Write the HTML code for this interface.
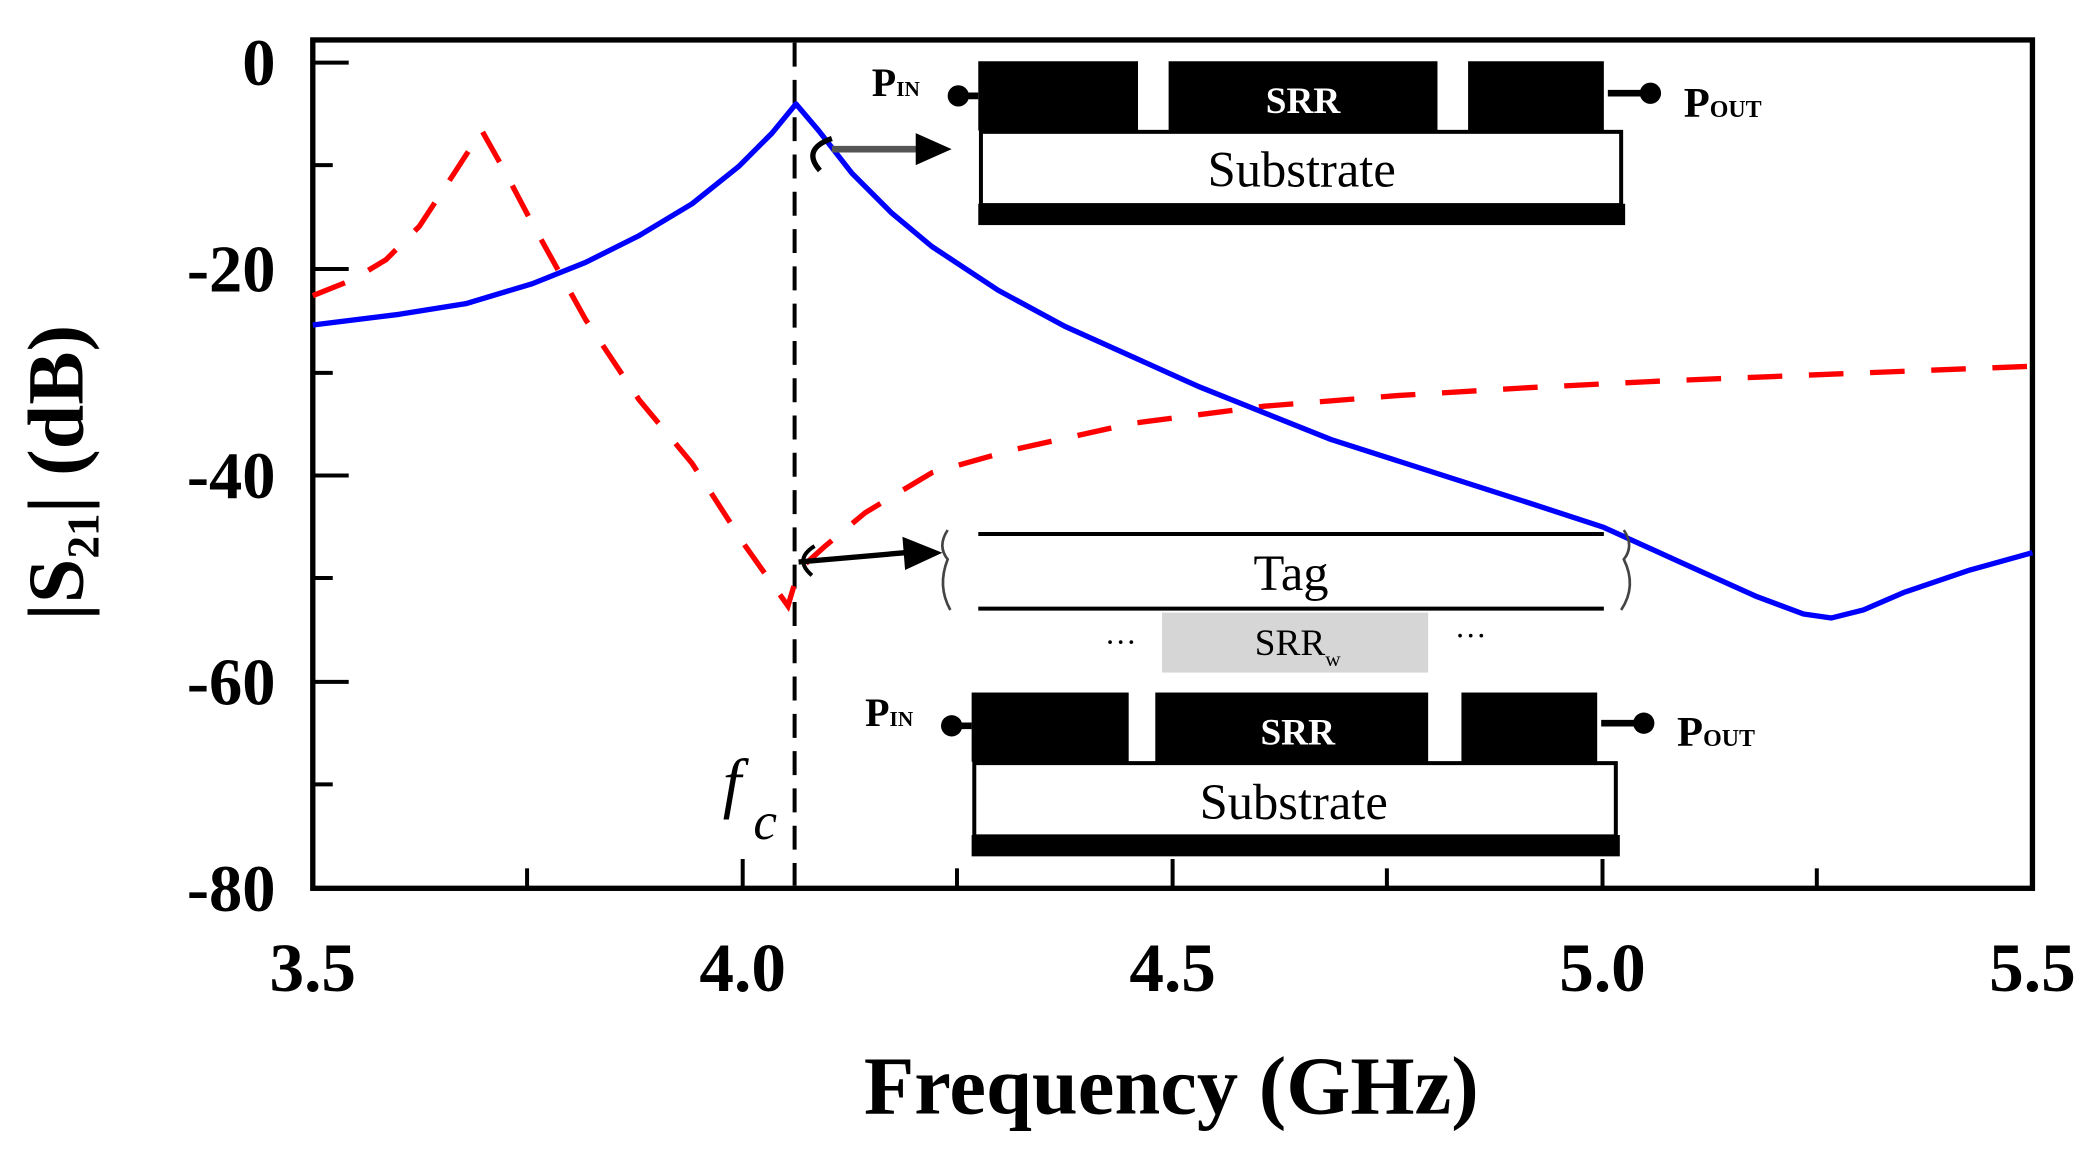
<!DOCTYPE html>
<html><head><meta charset="utf-8"><style>
html,body{margin:0;padding:0;background:#fff;}
svg{display:block;}
text{font-family:"Liberation Serif",serif;}
</style></head><body>
<svg width="2087" height="1156" viewBox="0 0 1568 868" preserveAspectRatio="none" xmlns="http://www.w3.org/2000/svg">
<rect x="0" y="0" width="1568" height="868" fill="#fff"/>
<rect x="235" y="30" width="1292" height="637" fill="none" stroke="#000" stroke-width="4"/>
<g stroke="#000" stroke-width="3">
<line x1="235" y1="47" x2="262" y2="47"/>
<line x1="235" y1="124" x2="250" y2="124"/>
<line x1="235" y1="202" x2="262" y2="202"/>
<line x1="235" y1="280" x2="250" y2="280"/>
<line x1="235" y1="357" x2="262" y2="357"/>
<line x1="235" y1="434" x2="250" y2="434"/>
<line x1="235" y1="512" x2="262" y2="512"/>
<line x1="235" y1="589" x2="250" y2="589"/>
<line x1="396" y1="667" x2="396" y2="652"/>
<line x1="558" y1="667" x2="558" y2="645"/>
<line x1="719" y1="667" x2="719" y2="652"/>
<line x1="881" y1="667" x2="881" y2="645"/>
<line x1="1042" y1="667" x2="1042" y2="652"/>
<line x1="1204" y1="667" x2="1204" y2="645"/>
<line x1="1365" y1="667" x2="1365" y2="652"/>
</g>
<g font-size="50" font-weight="bold" text-anchor="end">
<text x="207" y="64">0</text>
<text x="207" y="219">-20</text>
<text x="207" y="374">-40</text>
<text x="207" y="529">-60</text>
<text x="207" y="684">-80</text>
</g>
<g font-size="52" font-weight="bold" text-anchor="middle">
<text x="235" y="744">3.5</text>
<text x="558" y="744">4.0</text>
<text x="881" y="744">4.5</text>
<text x="1204" y="744">5.0</text>
<text x="1527" y="744">5.5</text>
</g>
<text x="880" y="836" font-size="62" font-weight="bold" text-anchor="middle">Frequency (GHz)</text>
<g transform="translate(62,355) rotate(-90)">
<text x="0" y="0" font-size="60" font-weight="bold" text-anchor="middle">|S<tspan font-size="34" dy="12">21</tspan><tspan dy="-12">| (dB)</tspan></text>
</g>
<line x1="597" y1="32" x2="597" y2="665" stroke="#000" stroke-width="3" stroke-dasharray="18,10"/>
<text x="543" y="605" font-size="50" font-style="italic">f</text>
<text x="566" y="630" font-size="40" font-style="italic">c</text>
<polyline fill="none" stroke="#f00" stroke-width="4" stroke-dasharray="26,20" points="235,222 265,210 290,195 315,170 340,132 362,98 380,130 400,168 440,240 480,300 520,348 560,410 592,455 600,428 620,410 650,385 700,355 760,338 850,318 950,305 1050,297 1150,291 1250,286 1350,282 1450,278 1527,275"/>
<polyline fill="none" stroke="#00f" stroke-width="4" stroke-linejoin="round" points="235,244 300,236 350,228 400,213 440,197 480,177 520,153 555,125 580,100 598,78 615,98 640,130 670,160 700,185 750,218 800,245 900,290 1000,330 1100,362 1150,378 1205,396 1260,421 1320,448 1355,461 1376,464 1400,458 1430,445 1480,428 1527,415"/>
<rect x="735" y="46" width="120" height="52" fill="#000"/>
<rect x="878" y="46" width="202" height="52" fill="#000"/>
<rect x="1103" y="46" width="102" height="52" fill="#000"/>
<rect x="737" y="99" width="481" height="55" fill="#fff" stroke="#000" stroke-width="3"/>
<rect x="735" y="153" width="486" height="16" fill="#000"/>
<text x="979" y="85" font-size="28" fill="#fff" text-anchor="middle" font-weight="bold">SRR</text>
<text x="978" y="140" font-size="38" text-anchor="middle">Substrate</text>
<text x="655" y="72" font-size="30" font-weight="bold">P<tspan font-size="16">IN</tspan></text>
<circle cx="720" cy="72" r="8" fill="#000"/><line x1="720" y1="72" x2="735" y2="72" stroke="#000" stroke-width="5"/>
<line x1="1208" y1="70" x2="1238" y2="70" stroke="#000" stroke-width="5"/><circle cx="1240" cy="70" r="8" fill="#000"/>
<text x="1265" y="88" font-size="32" font-weight="bold">P<tspan font-size="18">OUT</tspan></text>
<line x1="625" y1="112" x2="690" y2="112" stroke="#555" stroke-width="5"/>
<polygon points="688,100 715,112 688,124" fill="#000"/>
<path d="M625,104 Q602,112 616,128" fill="none" stroke="#000" stroke-width="4"/>
<line x1="735" y1="401" x2="1205" y2="401" stroke="#000" stroke-width="3"/>
<line x1="735" y1="457" x2="1205" y2="457" stroke="#000" stroke-width="3"/>
<text x="970" y="443" font-size="38" text-anchor="middle">Tag</text>
<path d="M712,398 Q704,410 712,420 Q704,440 714,458" fill="none" stroke="#444" stroke-width="2"/>
<path d="M1220,398 Q1228,410 1220,420 Q1230,440 1218,458" fill="none" stroke="#444" stroke-width="2"/>
<rect x="873" y="460" width="200" height="45" fill="#d6d6d6"/>
<text x="975" y="492" font-size="28" text-anchor="middle">SRR<tspan font-size="16" dy="8">w</tspan></text>
<text x="842" y="490" font-size="24" text-anchor="middle">···</text>
<text x="1105" y="485" font-size="24" text-anchor="middle">···</text>
<line x1="600" y1="422" x2="680" y2="415" stroke="#000" stroke-width="4"/>
<polygon points="678,403 708,415 680,428" fill="#000"/>
<path d="M612,410 Q596,420 610,432" fill="none" stroke="#000" stroke-width="3"/>
<rect x="730" y="520" width="118" height="52" fill="#000"/>
<rect x="868" y="520" width="205" height="52" fill="#000"/>
<rect x="1098" y="520" width="102" height="52" fill="#000"/>
<rect x="732" y="573" width="482" height="55" fill="#fff" stroke="#000" stroke-width="3"/>
<rect x="730" y="627" width="487" height="16" fill="#000"/>
<text x="975" y="559" font-size="28" fill="#fff" text-anchor="middle" font-weight="bold">SRR</text>
<text x="972" y="615" font-size="38" text-anchor="middle">Substrate</text>
<text x="650" y="545" font-size="30" font-weight="bold">P<tspan font-size="16">IN</tspan></text>
<circle cx="715" cy="545" r="8" fill="#000"/><line x1="715" y1="545" x2="730" y2="545" stroke="#000" stroke-width="5"/>
<line x1="1203" y1="543" x2="1233" y2="543" stroke="#000" stroke-width="5"/><circle cx="1235" cy="543" r="8" fill="#000"/>
<text x="1260" y="560" font-size="32" font-weight="bold">P<tspan font-size="18">OUT</tspan></text>
</svg>
</body></html>
